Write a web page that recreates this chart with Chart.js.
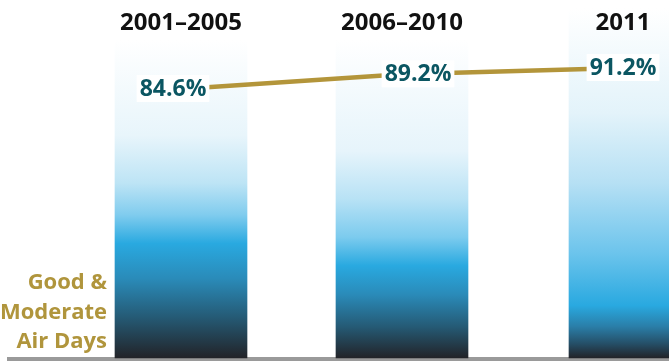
<!DOCTYPE html>
<html>
<head>
<meta charset="utf-8">
<script src="https://cdn.jsdelivr.net/npm/chart.js@4.4.1/dist/chart.umd.min.js"></script>
<style>
  html, body { margin: 0; padding: 0; background: #ffffff; }
  #wrap { width: 669px; height: 361px; }
</style>
</head>
<body>
<div id="wrap"><canvas id="c" width="669" height="361"></canvas></div>
<script>
// ---- data ----
const categories = ['2001–2005', '2006–2010', '2011'];
const goodModeratePct = [84.6, 89.2, 91.2];
const valueLabels = ['84.6%', '89.2%', '91.2%'];
const barTotals = [100, 100, 110];
const axisTitle = ['Good &', 'Moderate', 'Air Days'];

// ---- styles ----
const gradientStops = [
  [[0, '#ffffff'], [0.30, '#e8f5fb'], [0.45, '#bde4f5'], [0.55, '#80ccee'], [0.64, '#29a9e0'], [0.75, '#2a8bb9'], [0.87, '#255b76'], [1, '#222328']],
  [[0, '#ffffff'], [0.35, '#e6f4fb'], [0.50, '#b8e2f5'], [0.62, '#7ccbee'], [0.71, '#29a9e0'], [0.80, '#2a8bb9'], [0.90, '#255b76'], [1, '#222328']],
  [[0, '#ffffff'], [0.30, '#e3f3fa'], [0.50, '#b6e0f4'], [0.70, '#6cc4ec'], [0.85, '#29a9e0'], [0.91, '#2a7ea8'], [0.96, '#254e66'], [1, '#222328']]
];
const labelDx = [-8, 16, 0];

function barGradient(ctx) {
  const chart = ctx.chart;
  const i = ctx.dataIndex;
  const y = chart.scales.y;
  if (!chart.chartArea || !y || ctx.raw == null) return '#29a9e0';
  const top = y.getPixelForValue(barTotals[i]);
  const bottom = y.getPixelForValue(0);
  if (!isFinite(top) || !isFinite(bottom)) return '#29a9e0';
  const g = chart.ctx.createLinearGradient(0, top, 0, bottom);
  gradientStops[i].forEach(s => g.addColorStop(s[0], s[1]));
  return g;
}

const decorPlugin = {
  id: 'decor',
  beforeDatasetsDraw(chart) {
    const c = chart.ctx;
    c.save();
    c.fillStyle = '#9a9a9a';
    c.fillRect(7, 357, chart.width - 7, 4);
    c.restore();
  },
  afterDatasetsDraw(chart) {
    const c = chart.ctx;
    const x = chart.scales.x, y = chart.scales.y;
    c.save();
    c.font = 'bold 24px "Open Sans"';
    c.fillStyle = '#111111';
    c.textAlign = 'center';
    c.textBaseline = 'middle';
    categories.forEach((cat, i) => {
      c.fillText(cat, x.getPixelForValue(i), 23);
    });
    c.font = 'bold 23px "Open Sans"';
    goodModeratePct.forEach((v, i) => {
      const px = x.getPixelForValue(i) + labelDx[i];
      const py = y.getPixelForValue(v);
      const w = c.measureText(valueLabels[i]).width;
      c.fillStyle = '#ffffff';
      c.fillRect(px - w / 2 - 3, py - 14, w + 6, 27);
      c.fillStyle = '#0b5662';
      c.fillText(valueLabels[i], px, py);
    });
    c.font = 'bold 22px "Open Sans"';
    c.fillStyle = '#b0953c';
    c.textAlign = 'right';
    axisTitle.forEach((t, i) => {
      c.fillText(t, 107, 283 + i * 29.5);
    });
    c.restore();
  }
};

new Chart(document.getElementById('c'), {
  type: 'bar',
  data: {
    labels: categories,
    datasets: [
      {
        type: 'line',
        data: goodModeratePct,
        borderColor: '#b3953a',
        borderWidth: 4.5,
        pointRadius: 0,
        tension: 0,
        order: 0,
        clip: false
      },
      {
        data: [barTotals[0], barTotals[1], null],
        backgroundColor: barGradient,
        barThickness: 132,
        grouped: false,
        order: 1,
        clip: false
      },
      {
        data: [null, null, barTotals[2]],
        backgroundColor: barGradient,
        barThickness: 108,
        grouped: false,
        order: 1,
        clip: false
      }
    ]
  },
  options: {
    responsive: false,
    animation: false,
    devicePixelRatio: 1,
    layout: { padding: { left: 181, right: 46, top: 40, bottom: 3 } },
    plugins: { legend: { display: false }, tooltip: { enabled: false } },
    scales: {
      x: { display: false, offset: false },
      y: { display: false, min: 0, max: 100 }
    }
  },
  plugins: [decorPlugin]
});
</script>
</body>
</html>
